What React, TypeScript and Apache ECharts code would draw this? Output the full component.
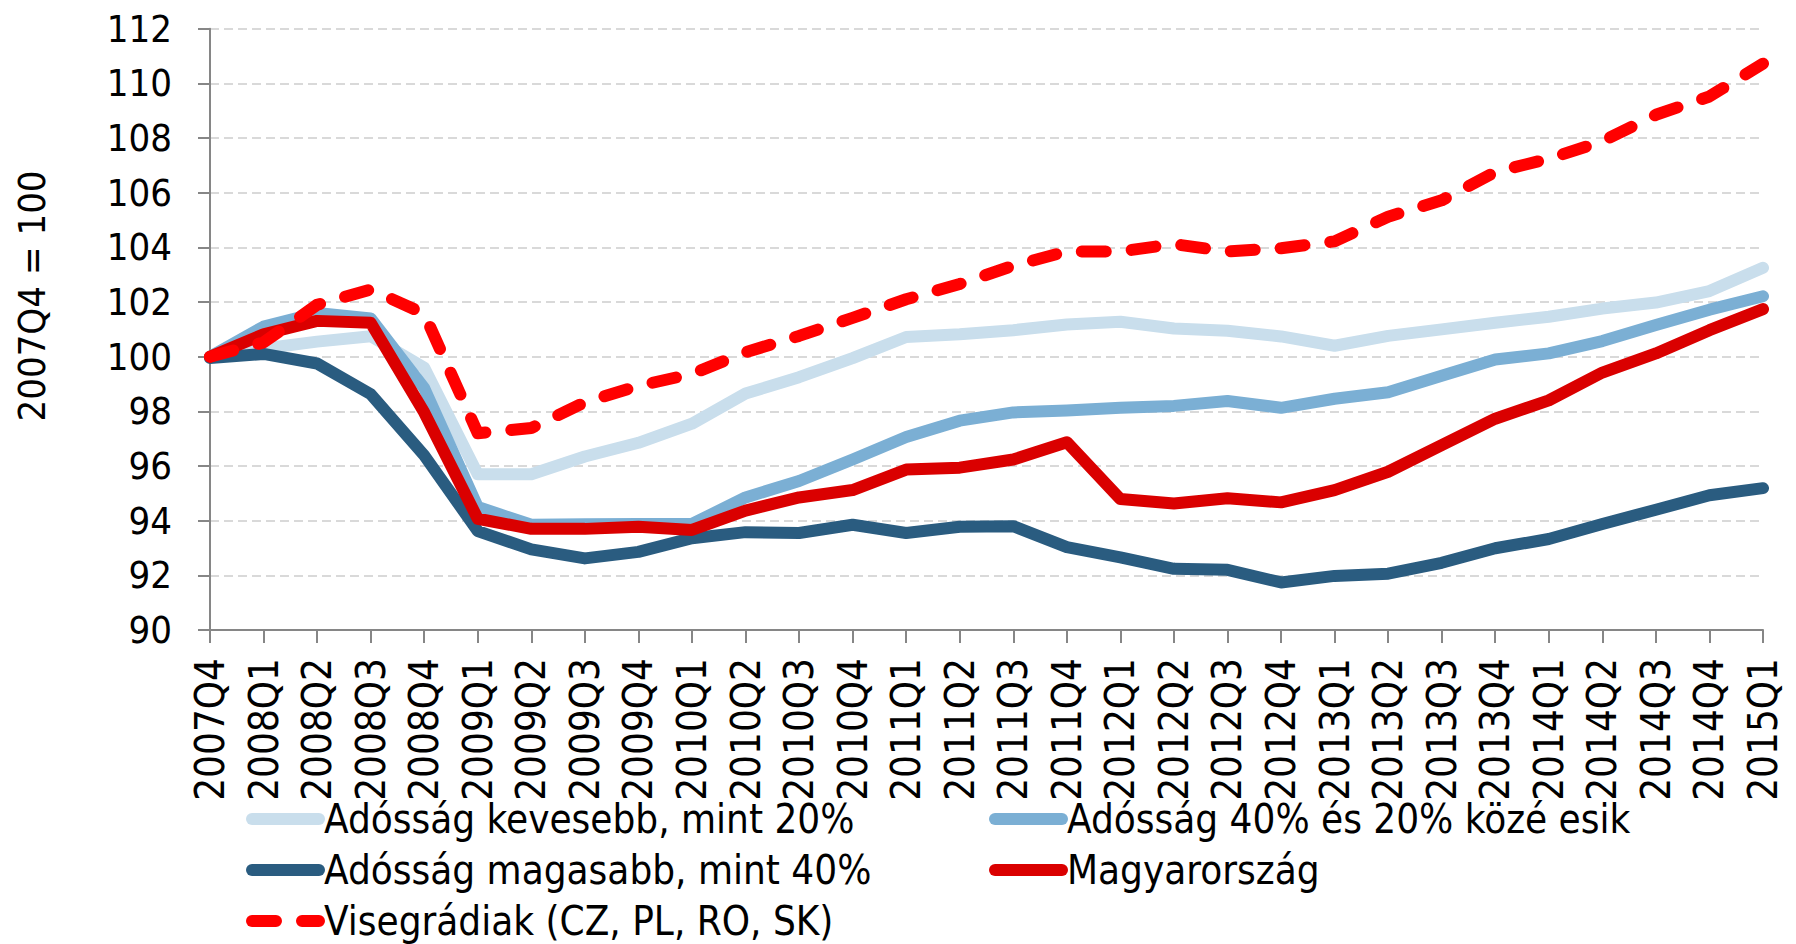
import React, { useEffect, useRef } from "react";
import * as echarts from "echarts";

const categories = [
  "2007Q4", "2008Q1", "2008Q2", "2008Q3", "2008Q4", "2009Q1", "2009Q2", "2009Q3", "2009Q4", "2010Q1",
  "2010Q2", "2010Q3", "2010Q4", "2011Q1", "2011Q2", "2011Q3", "2011Q4", "2012Q1", "2012Q2", "2012Q3",
  "2012Q4", "2013Q1", "2013Q2", "2013Q3", "2013Q4", "2014Q1", "2014Q2", "2014Q3", "2014Q4", "2015Q1",
];

const seriesNames = [
  "Adósság kevesebb, mint 20%",
  "Adósság 40% és 20% közé esik",
  "Adósság magasabb, mint 40%",
  "Magyarország",
  "Visegrádiak (CZ, PL, RO, SK)",
];

const lowDebt = [
  100, 100.3, 100.55, 100.75, 99.6, 95.7, 95.7, 96.35, 96.85, 97.55,
  98.65, 99.25, 99.95, 100.72, 100.82, 100.97, 101.18, 101.28, 101.03, 100.95,
  100.74, 100.4, 100.76, 101.0, 101.24, 101.46, 101.76, 101.98, 102.4, 103.25,
];

const midDebt = [
  100, 101.1, 101.6, 101.4, 98.85, 94.5, 93.85, 93.87, 93.88, 93.88,
  94.85, 95.45, 96.24, 97.06, 97.66, 97.96, 98.03, 98.13, 98.2, 98.38,
  98.13, 98.46, 98.7, 99.3, 99.9, 100.12, 100.57, 101.16, 101.72, 102.21,
];

const highDebt = [
  99.95, 100.1, 99.75, 98.63, 96.39, 93.62, 92.95, 92.62, 92.86, 93.36,
  93.58, 93.55, 93.85, 93.55, 93.78, 93.8, 93.03, 92.66, 92.24, 92.2,
  91.74, 91.98, 92.06, 92.46, 92.99, 93.33, 93.88, 94.4, 94.93, 95.19,
];

const hungary = [
  100, 100.82, 101.31, 101.24, 97.96, 94.07, 93.7, 93.7, 93.78, 93.66,
  94.37, 94.85, 95.12, 95.87, 95.94, 96.24, 96.87, 94.79, 94.63, 94.82,
  94.67, 95.12, 95.79, 96.76, 97.73, 98.4, 99.42, 100.12, 100.97, 101.74,
];

const visegrad = [
  100, 100.52, 101.9, 102.46, 101.57, 97.2, 97.39, 98.33, 98.93, 99.37,
  100.16, 100.76, 101.42, 102.1, 102.66, 103.33, 103.85, 103.85, 104.12, 103.85,
  103.97, 104.22, 105.12, 105.72, 106.76, 107.24, 107.88, 108.85, 109.52, 110.72,
];

const yMin = 90;
const yMax = 112;
const yStep = 2;
const yAxisTitle = "2007Q4 = 100";

const FONT = "'DejaVu Sans Condensed', 'DejaVu Sans', sans-serif";

export default function App() {
  const ref = useRef<HTMLDivElement>(null);

  useEffect(() => {
    if (!ref.current) return;
    const chart = echarts.init(ref.current, null, { renderer: "svg" });

    const colors = ["#C9DEEC", "#7BAFD4", "#2A5C80", "#DA0000", "#FF0000"];
    const datas = [lowDebt, midDebt, highDebt, hungary, visegrad];

    const series = datas.map((d, i) => ({
      name: seriesNames[i],
      type: "line",
      data: d,
      symbol: "none",
      smooth: false,
      lineStyle: {
        color: colors[i],
        width: 12,
        type: i === 4 ? [24, 26] : "solid",
        cap: "round",
        join: "round",
      },
      itemStyle: { color: colors[i] },
      z: 2 + i,
    }));

    const legendCommon = {
      orient: "vertical",
      padding: 0,
      itemWidth: 67,
      itemHeight: 14,
      itemGap: 11,
      height: 150,
      textStyle: {
        fontFamily: FONT,
        fontSize: 40,
        color: "#000",
        lineHeight: 40,
      },
      itemStyle: { opacity: 0 },
      lineStyle: { width: 12, cap: "round" },
      selectedMode: false,
    };

    chart.setOption({
      animation: false,
      backgroundColor: "#fff",
      grid: {
        left: 210,
        right: 33,
        top: 28.7,
        bottom: 314,
        containLabel: false,
        outerBoundsMode: "none",
      },
      legend: [
        { ...legendCommon, left: 246, top: 799, data: [seriesNames[0], seriesNames[2], seriesNames[4]] },
        { ...legendCommon, left: 989, top: 799, data: [seriesNames[1], seriesNames[3]] },
      ],
      xAxis: {
        type: "category",
        data: categories,
        boundaryGap: false,
        axisLine: { lineStyle: { color: "#868686", width: 2 } },
        axisTick: { show: true, length: 13, lineStyle: { color: "#868686", width: 2 }, interval: 0 },
        axisLabel: {
          interval: 0,
          rotate: 90,
          margin: 28,
          fontFamily: FONT,
          fontSize: 40,
          color: "#000",
        },
        splitLine: { show: false },
      },
      yAxis: {
        type: "value",
        min: yMin,
        max: yMax,
        interval: yStep,
        axisLine: { show: true, lineStyle: { color: "#868686", width: 2 } },
        axisTick: { show: true, length: 12, lineStyle: { color: "#868686", width: 2 } },
        axisLabel: {
          margin: 38,
          fontFamily: FONT,
          fontSize: 38,
          color: "#000",
        },
        splitLine: {
          show: true,
          lineStyle: { color: "#D9D9D9", width: 2, type: [9, 5] },
        },
      },
      graphic: [
        {
          type: "text",
          x: 32,
          y: 296,
          rotation: Math.PI / 2,
          style: {
            text: yAxisTitle,
            fontFamily: FONT,
            fontSize: 38,
            fill: "#000",
            align: "center",
            verticalAlign: "middle",
          },
        },
      ],
      series,
    });

    return () => chart.dispose();
  }, []);

  return (
    <div
      ref={ref}
      style={{ position: "fixed", left: 0, top: 0, width: 1796, height: 944 }}
    />
  );
}
